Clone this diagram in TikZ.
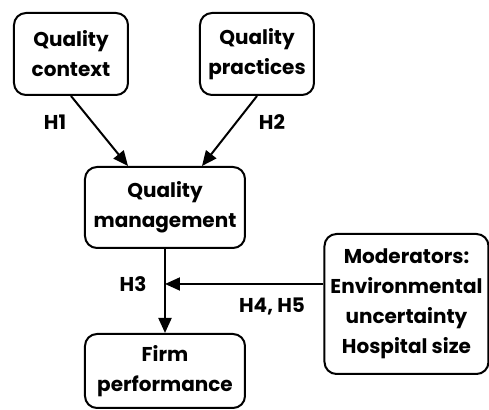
\documentclass[tikz,border=0pt]{standalone}
\usepackage{fontspec}
\setmainfont{Poppins}
\usetikzlibrary{arrows.meta}
\begin{document}
\begin{tikzpicture}[x=0.5pt,y=-0.5pt,
	main node/.style = {rectangle,draw,rounded corners=6pt,line width=1pt,align=center,
		inner sep=0pt,font=\bfseries\fontsize{10}{15}\selectfont},
	hyp/.style = {font=\bfseries\fontsize{10}{15}\selectfont},
	arr/.style = {line width=1pt,-{Triangle[length=7.5pt,width=6.5pt]}}]
	\useasboundingbox (0,0) rectangle (489,410);
	\node[main node,minimum width=57pt,minimum height=41pt] (ctx) at (71,54) {Quality\\context};
	\node[main node,minimum width=57pt,minimum height=41pt] (prac) at (257,54) {Quality\\practices};
	\node[main node,minimum width=80pt,minimum height=40.5pt] (mgmt) at (165,207.5) {Quality\\management};
	\node[main node,minimum width=80pt,minimum height=37pt] (perf) at (165,371) {Firm\\performance};
	\node[main node,minimum width=82pt,minimum height=70pt] (mod) at (406.5,304) {Moderators:\\Environmental\\uncertainty\\Hospital size};
	\coordinate (m) at (165,284);
	\node[hyp] (h1) at (55,122) {H1};
	\node[hyp] (h2) at (272,122) {H2};
	\node[hyp] (h3) at (133,284) {H3};
	\node[hyp] (h45) at (272,306) {H4, H5};

	\draw[arr] (ctx.south) -- ([xshift=-18.5pt]mgmt.north);
	\draw[arr] (prac.south) -- ([xshift=18.5pt]mgmt.north);
	\draw[arr] (mgmt.south) -- (perf.north);
	\draw[arr] (mod.west |- m) -- (m);
\end{tikzpicture}
\end{document}
